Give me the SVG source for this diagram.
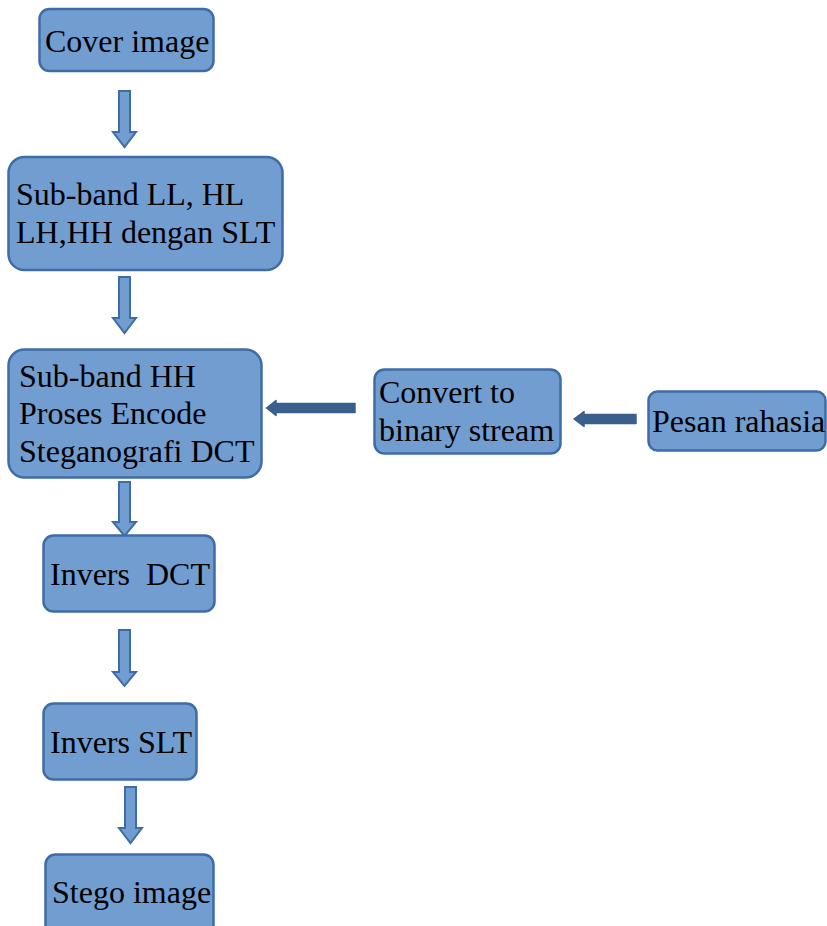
<svg xmlns="http://www.w3.org/2000/svg" width="827" height="926" viewBox="0 0 827 926">
  <style>
    .box { fill: #729dd0; stroke: #3e6ca6; stroke-width: 2.5; }
    .lbl { font-family: "Liberation Serif", "Times New Roman", serif; font-size: 32px; fill: #000; }
    .hollow { fill: #729dd0; stroke: #3e6ca6; stroke-width: 2; stroke-linejoin: miter; }
    .solid { fill: #3b5f8c; stroke: #3b5f8c; stroke-width: 1.5; stroke-linejoin: round; }
  </style>
  <rect width="827" height="926" fill="#ffffff"/>

  <g id="connectors">
    <!-- vertical hollow block arrows -->
    <polygon class="hollow" points="119,91 130,91 130,132 136,132 124.5,147 113,132 119,132"/>
    <polygon class="hollow" points="119,277 130,277 130,318 136,318 124.5,333 113,318 119,318"/>
    <polygon class="hollow" points="119,482 130,482 130,522 136,522 124.5,536 113,522 119,522"/>
    <polygon class="hollow" points="119,630 130,630 130,672 136,672 124.5,686 113,672 119,672"/>
    <polygon class="hollow" points="125,787 136,787 136,828 142,828 130.5,843 119,828 125,828"/>
    <!-- horizontal solid arrows -->
    <polygon class="solid" points="355,403.5 355,412.5 276,412.5 276,415.5 266.5,408 276,400.5 276,403.5"/>
    <polygon class="solid" points="636,414.5 636,423.5 584,423.5 584,426.5 574,419 584,411.5 584,414.5"/>
  </g>

  <g id="cover-image">
    <rect class="box" x="39.5" y="9" width="174" height="62" rx="10"/>
    <text class="lbl" x="45" y="52">Cover image</text>
  </g>

  <g id="sub-band-slt">
    <rect class="box" x="8.5" y="157" width="274" height="113" rx="16"/>
    <text class="lbl" x="16" y="205">Sub-band LL, HL</text>
    <text class="lbl" x="16" y="243">LH,HH dengan SLT</text>
  </g>

  <g id="sub-band-hh">
    <rect class="box" x="8.5" y="349.5" width="253" height="128" rx="16"/>
    <text class="lbl" x="19" y="387">Sub-band HH</text>
    <text class="lbl" x="19" y="424">Proses Encode</text>
    <text class="lbl" x="19" y="462">Steganografi DCT</text>
  </g>

  <g id="convert-binary">
    <rect class="box" x="374.5" y="369.5" width="186" height="84" rx="10"/>
    <text class="lbl" x="379" y="403">Convert to</text>
    <text class="lbl" x="379" y="441">binary stream</text>
  </g>

  <g id="pesan-rahasia">
    <rect class="box" x="648.5" y="391.5" width="177" height="59" rx="9"/>
    <text class="lbl" x="652" y="432">Pesan rahasia</text>
  </g>

  <g id="invers-dct">
    <rect class="box" x="43.5" y="535.5" width="171" height="76" rx="10"/>
    <text class="lbl" x="50" y="585" xml:space="preserve">Invers  DCT</text>
  </g>

  <g id="invers-slt">
    <rect class="box" x="43.5" y="703.5" width="153" height="76" rx="10"/>
    <text class="lbl" x="50" y="753">Invers SLT</text>
  </g>

  <g id="stego-image">
    <rect class="box" x="45.5" y="854.5" width="168" height="90" rx="10"/>
    <text class="lbl" x="52" y="903">Stego image</text>
  </g>
</svg>
